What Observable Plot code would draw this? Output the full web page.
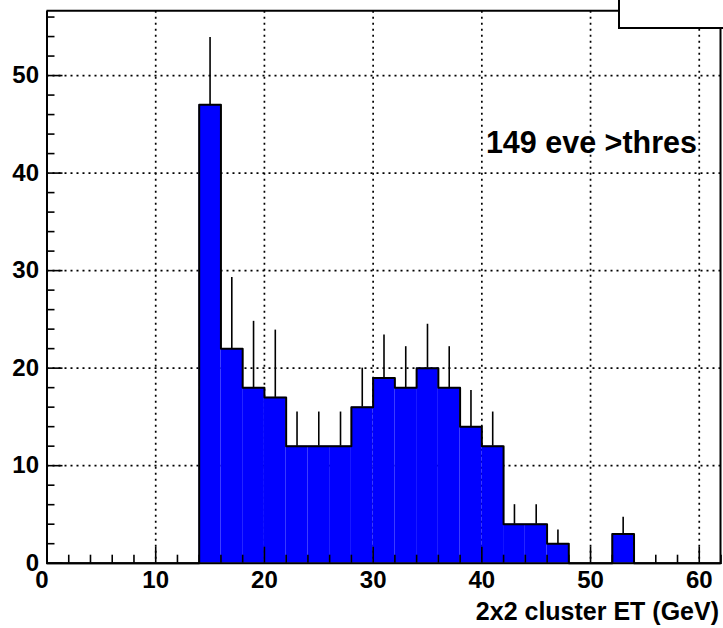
<!DOCTYPE html>
<html><head><meta charset="utf-8">
<script src="https://cdn.jsdelivr.net/npm/d3@7"></script>
<script src="https://cdn.jsdelivr.net/npm/@observablehq/plot@0.6"></script>
<style>body{margin:0;background:#fff}svg{display:block}</style>
</head><body><div id="chart"></div>
<script>
// histogram bins (lower edges, width 2 GeV)
const binLow = [0,2,4,6,8,10,12,14,16,18,20,22,24,26,28,30,32,34,36,38,40,42,44,46,48,50,52,54,56,58,60];
const binWidth = 2;
const counts = [0,0,0,0,0,0,0,47,22,18,17,12,12,12,16,19,18,20,18,14,12,4,4,2,0,0,3,0,0,0,0];
const errors = [0,0,0,0,0,0,0,6.9,7.3,6.8,6.9,3.5,3.5,3.5,4.0,4.4,4.2,4.5,4.2,3.7,3.5,2.0,2.0,1.4,0,0,1.7,0,0,0,0];
const xTicks = [0,10,20,30,40,50,60];
const xMinor = [2,4,6,8,12,14,16,18,22,24,26,28,32,34,36,38,42,44,46,48,52,54,56,58,62];
const yTicks = [0,10,20,30,40,50];
const yMinor = [2,4,6,8,12,14,16,18,22,24,26,28,32,34,36,38,42,44,46,48,52,54,56];
const xLabel = "2x2 cluster ET (GeV)";
const note = "149 eve >thres";

const W = 723, H = 628;
const mL = 46.5, mR = 2.5, mT = 10.7, mB = 65.3;
const innerW = W - mL - mR, innerH = H - mT - mB;

const bins = binLow.map((x, i) => ({x1: x, x2: x + binWidth, xc: x + binWidth / 2, y: counts[i], e: errors[i]}));
const step = bins.map(b => ({x: b.x1, y: b.y})).concat([{x: bins[bins.length - 1].x2, y: bins[bins.length - 1].y}]);
const filled = bins.filter(b => b.y > 0);

const font = "'Liberation Sans', Arial, Helvetica, sans-serif";

const plot = Plot.plot({
  width: W, height: H,
  marginLeft: mL, marginRight: mR, marginTop: mT, marginBottom: mB,
  style: {fontFamily: font, fontSize: "24px", fontWeight: "bold", color: "#000", background: "#fff"},
  x: {domain: [0, 62]},
  y: {domain: [0, 56.6]},
  marks: [
    Plot.gridX(xTicks.slice(1), {stroke: "#000", strokeOpacity: 1, strokeWidth: 1.7, strokeDasharray: "2,4"}),
    Plot.gridY(yTicks.slice(1), {stroke: "#000", strokeOpacity: 1, strokeWidth: 1.7, strokeDasharray: "2,4"}),
    Plot.rectY(filled, {x1: "x1", x2: "x2", y: "y", fill: "#0000ff", inset: 0}),
    Plot.line(step, {x: "x", y: "y", curve: "step-after", stroke: "#000", strokeWidth: 2}),
    Plot.ruleX(filled, {x: "xc", y1: "y", y2: d => d.y + d.e, stroke: "#000", strokeWidth: 1.6}),
    Plot.ruleY([0], {stroke: "#000", strokeWidth: 2}),
    Plot.ruleX([0], {stroke: "#000", strokeWidth: 2}),
    Plot.ruleX(xTicks, {x: d => d, stroke: "#000", strokeWidth: 1.6, insetTop: innerH - 16}),
    Plot.ruleX(xMinor, {x: d => d, stroke: "#000", strokeWidth: 1.6, insetTop: innerH - 8}),
    Plot.ruleY(yTicks, {y: d => d, stroke: "#000", strokeWidth: 1.6, insetRight: innerW - 16}),
    Plot.ruleY(yMinor, {y: d => d, stroke: "#000", strokeWidth: 1.6, insetRight: innerW - 8}),
    Plot.axisX({ticks: xTicks.slice(0, 1), tickSize: 0, tickPadding: 8, dx: -5, tickFormat: d => String(d), label: null, fontSize: 24}),
    Plot.axisX({ticks: xTicks.slice(1), tickSize: 0, tickPadding: 8, tickFormat: d => String(d), label: null, fontSize: 24}),
    Plot.axisY({ticks: yTicks, tickSize: 0, tickPadding: 8, tickFormat: d => String(d), label: null, fontSize: 24}),
    Plot.text([xLabel], {frameAnchor: "bottom-right", textAnchor: "end", lineAnchor: "middle", dx: -2, dy: 49, fontSize: 25, fontWeight: "bold", fill: "#000"}),
    Plot.text([note], {frameAnchor: "top-right", textAnchor: "end", lineAnchor: "middle", dx: -24, dy: 132, fontSize: 30.5, fontWeight: "bold", fill: "#000"})
  ]
});

// pad frame (top + right) and the title box in the top-right corner
const svg = d3.select(plot);
svg.append("line").attr("x1", mL).attr("x2", 619).attr("y1", mT).attr("y2", mT).attr("stroke", "#000").attr("stroke-width", 2);
svg.append("line").attr("x1", W - mR).attr("x2", W - mR).attr("y1", 28).attr("y2", H - mB).attr("stroke", "#000").attr("stroke-width", 2);
svg.append("rect").attr("x", 619).attr("y", -5).attr("width", 120).attr("height", 33).attr("fill", "#fff").attr("stroke", "#000").attr("stroke-width", 2);

document.getElementById("chart").appendChild(plot);
</script>
</body></html>
